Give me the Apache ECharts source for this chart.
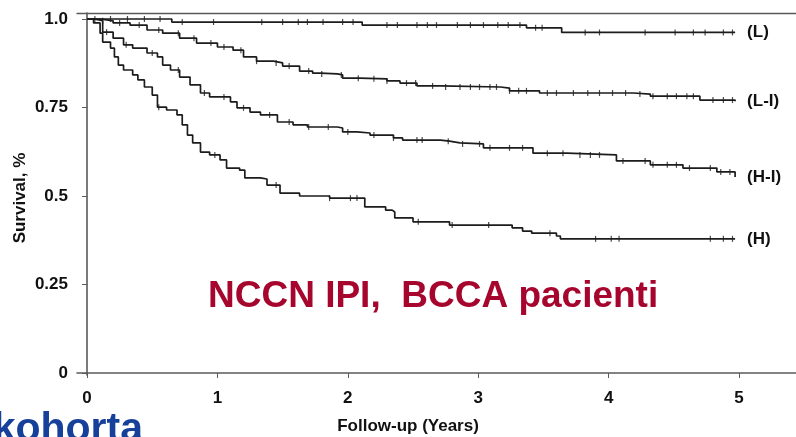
<!DOCTYPE html>
<html>
<head>
<meta charset="utf-8">
<script src="https://cdn.jsdelivr.net/npm/echarts@6/dist/echarts.min.js"></script>
<style>
    html, body { margin: 0; padding: 0; background: #fff; }
    #survival_chart { width: 796px; height: 437px; }
</style>
</head>
<body>
<div id="survival_chart"></div>
<script>
    'use strict';
    // Kaplan-Meier steps: time (years) -> survival
    var lowTimes = [0, 0.65, 2.11, 3.37, 3.64, 4.97];
    var lowSurv = [1.0, 0.9915, 0.983, 0.975, 0.962, 0.962];

    var lowIntTimes = [0, 0.10, 0.20, 0.33, 0.46, 0.58, 0.71, 0.84, 1.00, 1.12, 1.20, 1.30, 1.43, 1.50, 1.63, 1.73, 1.79, 1.92, 1.96, 2.09, 2.30, 2.40, 2.53, 2.71, 3.17, 3.24, 3.47, 4.19, 4.32, 4.70, 4.97];
    var lowIntSurv = [1.0, 0.995, 0.989, 0.983, 0.969, 0.960, 0.946, 0.932, 0.921, 0.912, 0.893, 0.881, 0.876, 0.867, 0.853, 0.847, 0.845, 0.842, 0.833, 0.831, 0.825, 0.819, 0.811, 0.808, 0.805, 0.797, 0.791, 0.788, 0.782, 0.771, 0.768];

    var highIntTimes = [0, 0.05, 0.12, 0.20, 0.28, 0.35, 0.46, 0.54, 0.58, 0.64, 0.71, 0.79, 0.87, 0.94, 1.10, 1.15, 1.25, 1.33, 1.46, 1.58, 1.69, 1.92, 1.96, 2.07, 2.17, 2.35, 2.42, 2.71, 2.78, 2.86, 3.04, 3.42, 3.68, 4.06, 4.32, 4.57, 4.83, 4.97];
    var highIntSurv = [1.0, 0.995, 0.963, 0.946, 0.927, 0.918, 0.904, 0.893, 0.870, 0.856, 0.836, 0.814, 0.791, 0.780, 0.766, 0.749, 0.737, 0.729, 0.709, 0.701, 0.695, 0.692, 0.681, 0.678, 0.672, 0.664, 0.658, 0.655, 0.650, 0.647, 0.636, 0.621, 0.616, 0.599, 0.588, 0.579, 0.568, 0.554];

    var highTimes = [0, 0.05, 0.10, 0.12, 0.18, 0.21, 0.24, 0.28, 0.35, 0.39, 0.44, 0.50, 0.54, 0.61, 0.69, 0.73, 0.77, 0.81, 0.87, 0.94, 1.02, 1.07, 1.17, 1.21, 1.33, 1.38, 1.48, 1.63, 1.86, 2.13, 2.29, 2.34, 2.36, 2.50, 2.78, 3.26, 3.34, 3.41, 3.60, 3.63, 4.97];
    var highSurv = [1.0, 0.989, 0.960, 0.935, 0.918, 0.893, 0.870, 0.856, 0.842, 0.828, 0.808, 0.785, 0.751, 0.743, 0.729, 0.701, 0.672, 0.650, 0.624, 0.616, 0.602, 0.579, 0.573, 0.551, 0.548, 0.531, 0.508, 0.500, 0.494, 0.469, 0.460, 0.455, 0.438, 0.427, 0.418, 0.410, 0.401, 0.395, 0.387, 0.379, 0.379];

    // censored observations (years)
    var lowCensor = [0.06, 0.18, 0.31, 0.44, 0.56, 0.73, 0.97, 1.34, 1.50, 1.62, 1.69, 1.81, 1.96, 2.04, 2.30, 2.38, 2.53, 2.61, 2.68, 2.84, 2.94, 3.04, 3.15, 3.23, 3.32, 3.44, 3.49, 3.82, 3.93, 4.28, 4.51, 4.65, 4.74, 4.88, 4.95];
    var lowIntCensor = [0.12, 0.25, 0.40, 0.55, 0.70, 0.82, 0.95, 1.05, 1.18, 1.30, 1.45, 1.55, 1.70, 1.80, 1.95, 2.08, 2.20, 2.30, 2.45, 2.52, 2.65, 2.75, 2.86, 2.94, 3.01, 3.09, 3.14, 3.24, 3.31, 3.37, 3.53, 3.60, 3.73, 3.84, 3.93, 4.03, 4.13, 4.24, 4.34, 4.45, 4.52, 4.60, 4.65, 4.80, 4.88, 4.95];
    var highIntCensor = [0.15, 0.30, 0.50, 0.70, 0.90, 1.05, 1.20, 1.40, 1.55, 1.70, 1.85, 2.00, 2.20, 2.35, 2.53, 2.57, 2.77, 2.88, 3.01, 3.09, 3.24, 3.34, 3.53, 3.65, 3.78, 3.86, 3.93, 4.11, 4.28, 4.34, 4.45, 4.52, 4.62, 4.78, 4.86, 4.93];
    var highCensor = [0.55, 0.98, 1.45, 1.86, 2.02, 2.07, 2.54, 2.80, 3.08, 3.55, 3.90, 4.02, 4.08, 4.78, 4.88, 4.95];

    var groupNames = ['(L)', '(L-I)', '(H-I)', '(H)'];
    var xTicks = [0, 1, 2, 3, 4, 5];
    var yTicks = [0, 0.25, 0.5, 0.75, 1.0];
    var yTickLabels = ['0', '0.25', '0.5', '0.75', '1.0'];

    var lineColor = '#1c1c1c';
    var axisColor = '#5a5a5a';
    var font = '"Liberation Sans", Arial, sans-serif';

    var pairUp = function (times, surv) {
        return times.map(function (t, i) {
            return [t, surv[i]];
        });
    };

    // value of the step curve at a censor time
    var censorPoints = function (times, surv, censor) {
        return censor.map(function (c) {
            var k = 0;
            for (var i = 0; i < times.length; i++) {
                if (times[i] <= c) {
                    k = i;
                }
            }
            return [c, surv[k]];
        });
    };

    var curves = [
        [lowTimes, lowSurv, lowCensor],
        [lowIntTimes, lowIntSurv, lowIntCensor],
        [highIntTimes, highIntSurv, highIntCensor],
        [highTimes, highSurv, highCensor]
    ];

    var series = [];
    curves.forEach(function (c, idx) {
        series.push({
            name : groupNames[idx],
            type : 'line',
            step : 'end',
            data : pairUp(c[0], c[1]),
            showSymbol : false,
            silent : true,
            lineStyle : { color : lineColor, width : 1.7 },
            endLabel : {
                show : true,
                distance : 12,
                formatter : groupNames[idx],
                color : '#111',
                fontFamily : font,
                fontWeight : 'bold',
                fontSize : 17
            }
        });
        series.push({
            name : groupNames[idx] + ' censored',
            type : 'scatter',
            data : censorPoints(c[0], c[1], c[2]),
            symbol : 'rect',
            symbolSize : [1.2, 6],
            silent : true,
            itemStyle : { color : lineColor }
        });
    });

    var option = {
        animation : false,
        backgroundColor : '#fff',
        grid : {
            left : 77,
            top : 13,
            right : 0,
            bottom : 62
        },
        xAxis : [
            {
                type : 'value',
                min : -0.077,
                max : 5.437,
                splitLine : { show : false },
                axisLine : { lineStyle : { color : axisColor, width : 1.6 } },
                axisTick : {
                    customValues : xTicks,
                    length : 5,
                    lineStyle : { color : axisColor }
                },
                axisLabel : {
                    customValues : xTicks,
                    margin : 15,
                    color : '#111',
                    fontFamily : font,
                    fontWeight : 'bold',
                    fontSize : 17
                }
            },
            {
                type : 'value',
                position : 'top',
                min : -0.077,
                max : 5.437,
                splitLine : { show : false },
                axisLine : { lineStyle : { color : axisColor, width : 1.3 } },
                axisTick : { show : false },
                axisLabel : { show : false }
            }
        ],
        yAxis : [
            {
                type : 'value',
                min : -0.0057,
                max : 1.017,
                splitLine : { show : false },
                axisLine : { show : true, lineStyle : { color : axisColor, width : 1.6 } },
                axisTick : {
                    show : true,
                    customValues : yTicks,
                    length : 5,
                    lineStyle : { color : axisColor }
                },
                axisLabel : {
                    customValues : yTicks,
                    margin : 9,
                    color : '#111',
                    fontFamily : font,
                    fontWeight : 'bold',
                    fontSize : 17,
                    formatter : function (v) {
                        var i = yTicks.indexOf(v);
                        return i >= 0 ? yTickLabels[i] : '';
                    }
                }
            }
        ],
        graphic : [
            {
                type : 'text',
                x : 408,
                y : 426,
                style : {
                    text : 'Follow-up (Years)',
                    fill : '#111',
                    font : 'bold 17px ' + font,
                    textAlign : 'center',
                    textVerticalAlign : 'middle'
                }
            },
            {
                type : 'text',
                x : 20,
                y : 198,
                rotation : Math.PI / 2,
                style : {
                    text : 'Survival, %',
                    fill : '#111',
                    font : 'bold 17px ' + font,
                    textAlign : 'center',
                    textVerticalAlign : 'middle'
                }
            },
            {
                type : 'text',
                x : 208,
                y : 297,
                style : {
                    text : 'NCCN IPI,  BCCA pacienti',
                    fill : '#A6062E',
                    font : 'bold 37px ' + font,
                    textAlign : 'left',
                    textVerticalAlign : 'middle'
                }
            },
            {
                type : 'text',
                x : 143,
                y : 450,
                style : {
                    text : 'kohorta',
                    fill : '#17409A',
                    font : 'bold 41px ' + font,
                    textAlign : 'right',
                    textVerticalAlign : 'bottom'
                }
            }
        ],
        series : series
    };

    var survival_chart = echarts.init(document.getElementById('survival_chart'));
    survival_chart.setOption(option);
</script>
</body>
</html>
